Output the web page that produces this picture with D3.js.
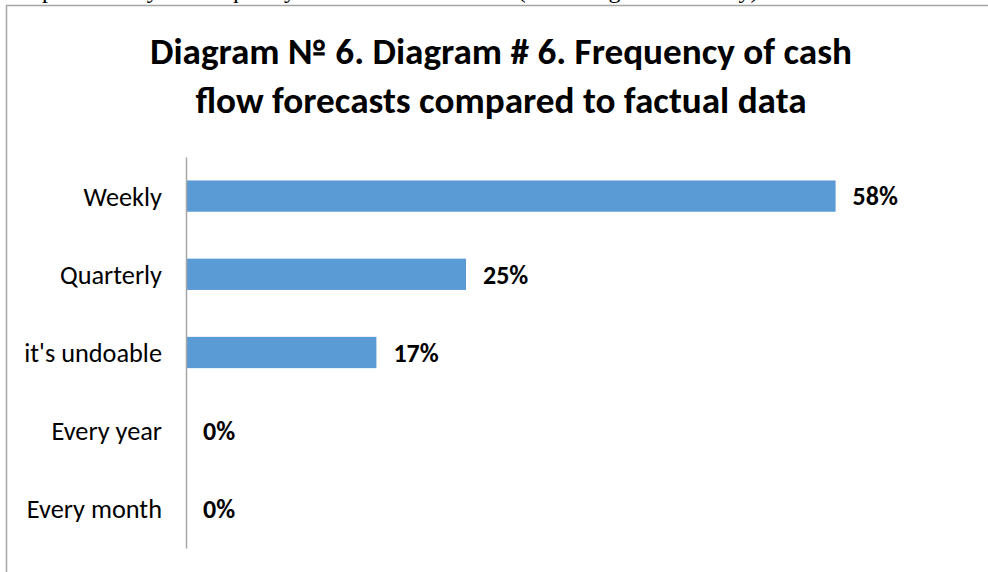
<!DOCTYPE html>
<meta charset="utf-8">
<title>Frequency of cash flow forecasts</title>
<style>
body { margin: 0; background: #fff; }
svg { display: block; font-family: Carlito, Calibri, Lato, "Open Sans", sans-serif; }
.frame { stroke: #a6a6a6; stroke-width: 1.5; fill: none; }
.cat { font-size: 26.3px; fill: #000; }
.val { font-size: 26px; font-weight: bold; fill: #000; }
.title { font-size: 37.2px; font-weight: bold; fill: #000; }
</style>
<svg width="988" height="572"></svg>
<script src="https://cdn.jsdelivr.net/npm/d3@7"></script>
<script>

// categories top to bottom, with their shares
var categories = ["Weekly", "Quarterly", "it's undoable", "Every year", "Every month"];
var values = [0.58, 0.25, 0.17, 0, 0];
var valueLabels = ["58%", "25%", "17%", "0%", "0%"];
var titleLines = ["Diagram № 6. Diagram # 6. Frequency of cash", "flow forecasts compared to factual data"];

var svg = d3.select("svg"),
    width = +svg.attr("width"),
    height = +svg.attr("height");

// leftover line of page text above the chart box (cut off in the source too)
svg.append("text")
    .attr("x", 14)
    .attr("y", -2)
    .attr("font-family", "'Liberation Serif', serif")
    .attr("font-size", 24)
    .text("respondents by the frequency of cash flow forecasts (according to the survey)");

// chart box border: only top and left edges are visible
svg.append("path")
    .attr("class", "frame")
    .attr("d", "M6.5," + height + "V5.5H" + width);

// title
svg.append("g").selectAll("text")
  .data(titleLines)
  .enter().append("text")
    .attr("class", "title")
    .attr("x", 501)
    .attr("y", function(d, i) { return 64 + i * 49; })
    .attr("text-anchor", "middle")
    .text(function(d) { return d; });

var x = d3.scaleLinear()
    .domain([0, 0.6])
    .range([186, 858]);

var y = d3.scaleBand()
    .domain(categories)
    .range([157, 548])
    .paddingInner(0.6)
    .paddingOuter(0.3);

// bars
svg.append("g").selectAll("rect")
  .data(values)
  .enter().append("rect")
    .attr("x", x(0))
    .attr("y", function(d, i) { return y(categories[i]); })
    .attr("width", function(d) { return x(d) - x(0); })
    .attr("height", y.bandwidth())
    .attr("fill", "#5b9bd5");

// value labels
svg.append("g").selectAll("text")
  .data(values)
  .enter().append("text")
    .attr("class", "val")
    .attr("x", function(d) { return x(d) + 17; })
    .attr("y", function(d, i) { return y(categories[i]) + y.bandwidth() / 2; })
    .attr("dy", "0.36em")
    .text(function(d, i) { return valueLabels[i]; });

// category axis
var axis = svg.append("g")
    .attr("transform", "translate(" + x(0) + ",0)")
    .call(d3.axisLeft(y).tickSize(0).tickPadding(24));
axis.attr("font-family", null).attr("font-size", null);
axis.select(".domain").attr("stroke", "#a6a6a6").attr("stroke-width", 1.5);
axis.selectAll(".tick text")
    .attr("class", "cat")
    .attr("dy", "0.36em");

</script>
